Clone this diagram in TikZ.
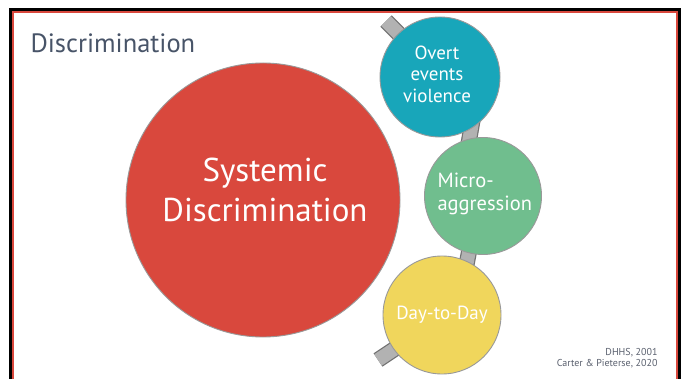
\documentclass[tikz,border=0pt]{standalone}
\usepackage{fontspec}
\setmainfont{PT Sans}
\begin{document}
\begin{tikzpicture}[x=1pt,y=-1pt,
  ball/.style={circle, draw=black!40, line width=0.9pt, inner sep=0pt, text=white, align=center},
  barout/.style={line width=16pt, draw=black!55},
  barin/.style={line width=13.5pt, draw=black!30},
  ttl/.style={text=titlecol, anchor=west, font=\fontsize{26.5}{30}\selectfont},
  cite/.style={text=citecol, anchor=east, align=right, font=\fontsize{10}{11}\selectfont}
]
\definecolor{titlecol}{RGB}{72,84,104}
\definecolor{citecol}{RGB}{90,96,110}
\definecolor{redc}{RGB}{217,72,61}
\definecolor{tealc}{RGB}{24,166,186}
\definecolor{greenc}{RGB}{112,190,142}
\definecolor{yellowc}{RGB}{240,214,92}
\useasboundingbox (0,0) rectangle (685,379);
\fill[white] (0,0) rectangle (685,379);
\begin{scope}
\clip (0,0) rectangle (685,379);
\draw[black, line width=3pt] (10.5,400) |- (679.5,10) -- (679.5,400);
\draw[redc, line width=2pt] (13,400) |- (677,12.2) -- (677,400);
\end{scope}
% bar anchor points
\coordinate (b1a) at (386,21);
\coordinate (b1b) at (412,47);
\coordinate (b2a) at (474,112);
\coordinate (b2b) at (466,158);
\coordinate (b3a) at (472,236);
\coordinate (b3b) at (464,278);
\coordinate (b4a) at (378,360);
\coordinate (b4b) at (402,344);
\foreach \a/\b in {b1a/b1b,b2a/b2b,b3a/b3b,b4a/b4b}{
  \draw[barout] (\a) -- (\b);
  \draw[barin] (\a) -- (\b);
}
\node[ttl] (title) at (27,43) {Discrimination};
\node[ball, fill=redc, minimum size=274pt] (sys) at (263,200) {};
\node[text=white, align=center, font=\fontsize{33}{40}\selectfont] (systxt) at (265,190) {Systemic\\Discrimination};
\node[ball, fill=tealc, minimum size=120pt] (overt) at (440,77) {};
\node[text=white, align=center, font=\fontsize{19}{21.5}\selectfont] (overttxt) at (437,74) {Overt\\events\\violence};
\node[ball, fill=greenc, minimum size=117pt] (micro) at (483,196) {};
\node[text=white, align=left, anchor=west, font=\fontsize{20.5}{23}\selectfont] (microtxt) at (434,194) {Micro-\\aggression};
\node[ball, fill=yellowc, minimum size=118pt, font=\fontsize{19}{21}\selectfont] (day) at (442,315) {Day-to-Day};
\node[cite] (cite) at (661,358) {DHHS, 2001\\Carter \& Pieterse, 2020};
\end{tikzpicture}
\end{document}
